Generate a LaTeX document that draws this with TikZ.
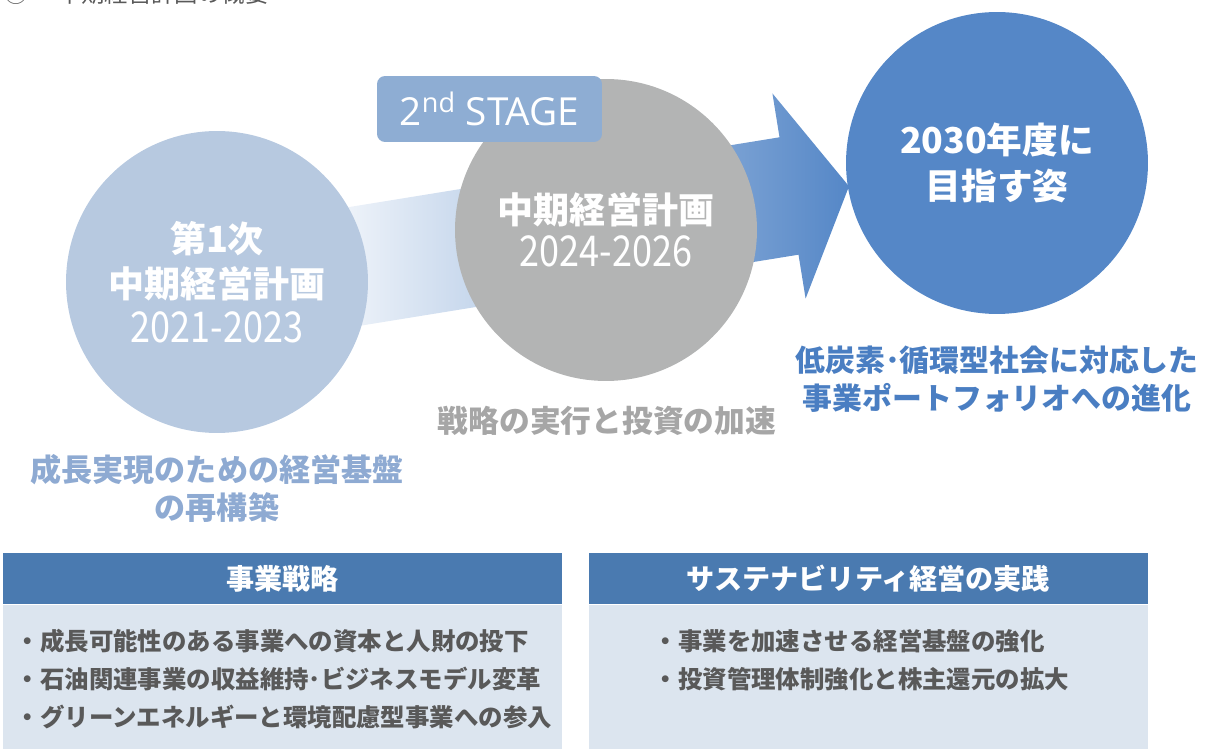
\documentclass[tikz,border=0pt]{standalone}
\usepackage{fontspec}
\setmainfont{Noto Sans CJK JP}
\newfontfamily\stagefont{Open Sans}
\usetikzlibrary{positioning}

\definecolor{firstblue}{HTML}{B7C9E0}
\definecolor{stagegray}{HTML}{B3B4B4}
\definecolor{goalblue}{HTML}{5587C7}
\definecolor{tagblue}{HTML}{8EADD3}
\definecolor{headblue}{HTML}{4A7AB0}
\definecolor{bodyblue}{HTML}{DCE5EF}
\definecolor{bodytext}{HTML}{595959}
\definecolor{goaltext}{HTML}{4A7EC2}
\definecolor{accgray}{HTML}{A6A6A6}
\definecolor{basetext}{HTML}{8EAAD2}

\pgfdeclarehorizontalshading{bandshade}{100bp}{color(0bp)=(white); color(30bp)=(white);
  color(75bp)=(goalblue); color(100bp)=(goalblue)}
\newcommand{\tallnum}[1]{\scalebox{1}[1.18]{#1}}

\begin{document}
\begin{tikzpicture}[x=0.02cm,y=-0.02cm,
    plan/.style={circle,minimum size=6.04cm,inner sep=0pt,text=white,align=center},
    headbar/.style={fill=headblue,text=white,minimum width=11.18cm,minimum height=1.02cm,inner sep=0pt,
      font=\fontsize{16}{19}\selectfont\bfseries},
    bodybox/.style={fill=bodyblue,minimum width=11.18cm,minimum height=2.9cm,inner sep=0pt},
    items/.style={text=bodytext,align=left,anchor=west,inner sep=0pt,
      font=\fontsize{13.9}{21.5}\selectfont\bfseries}]
  \useasboundingbox (0,0) rectangle (1207,749);

  % title line, cut at the top edge
  \node[anchor=base west,inner sep=0pt,text=bodytext,font=\fontsize{13.3}{16}\selectfont] (title) at (4,2.5) {①\hspace{1.3em}中期経営計画の概要};

  % the long arrow behind the three plans
  \coordinate (A1) at (226.8,226.9);
  \coordinate (A2) at (245.8,344.3);
  \coordinate (B1) at (779.5,137.3);
  \coordinate (B2) at (798.5,254.7);
  \coordinate (C1) at (772.4,93.4);
  \coordinate (C2) at (805.6,298.6);
  \coordinate (T) at (849,186.3);
  \shade[shading=bandshade] (A1) -- (B1) -- (C1) -- (T) -- (C2) -- (B2) -- (A2) -- cycle;

  \node[plan,fill=firstblue,font=\fontsize{20.5}{25.5}\selectfont] (first) at (217,282)
    {{\bfseries 第1次}\\{\bfseries 中期経営計画}\\\tallnum{2021-2023}};
  \node[plan,fill=stagegray,font=\fontsize{20.5}{24.4}\selectfont] (second) at (606,230)
    {{\bfseries 中期経営計画}\\\tallnum{2024-2026}};
  \node[plan,fill=goalblue,font=\fontsize{20.3}{26}\selectfont\bfseries] (goal) at (997,163)
    {2030年度に\\目指す姿};

  \node[fill=tagblue,text=white,rounded corners=0.16cm,minimum width=4.5cm,minimum height=1.32cm,
    font=\stagefont\fontsize{22}{26}\selectfont] (tag) at (489.5,109) {2\textsuperscript{nd} STAGE};

  \node[text=basetext,align=center,font=\fontsize{17.7}{22.1}\selectfont\bfseries] (firstnote) at (217,488.5)
    {成長実現のための経営基盤\\の再構築};
  \node[text=accgray,font=\fontsize{17.5}{21}\selectfont\bfseries] (secondnote) at (607,421)
    {戦略の実行と投資の加速};
  \node[text=goaltext,align=center,font=\fontsize{17}{21.5}\selectfont\bfseries] (goalnote) at (997,379)
    {低炭素･循環型社会に対応した\\事業ポートフォリオへの進化};

  % two boxes at the bottom
  \node[headbar] (bizhead) at (282.5,578.5) {事業戦略};
  \node[bodybox,below=0pt of bizhead] (bizbody) {};
  \node[headbar] (sushead) at (868.5,578.5) {サステナビリティ経営の実践};
  \node[bodybox,below=0pt of sushead] (susbody) {};

  \node[items] (bizlist) at (15.5,679)
    {・成長可能性のある事業への資本と人財の投下\\・石油関連事業の収益維持･ビジネスモデル変革\\・グリーンエネルギーと環境配慮型事業への参入};
  \node[items] (suslist) at (653.5,660)
    {・事業を加速させる経営基盤の強化\\・投資管理体制強化と株主還元の拡大};
\end{tikzpicture}
\end{document}
